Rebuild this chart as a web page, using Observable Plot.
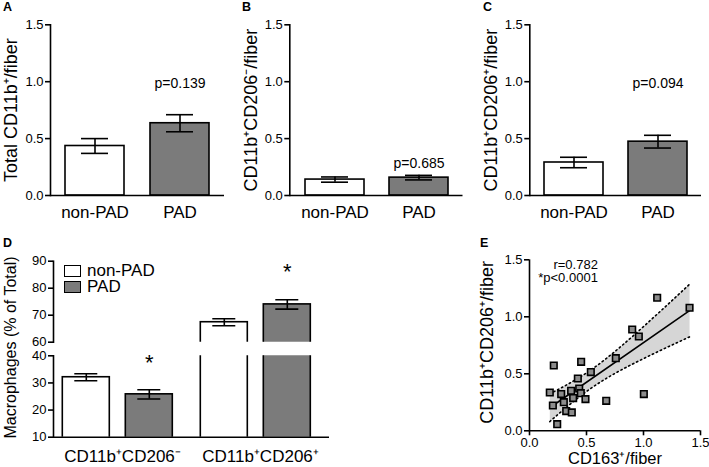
<!DOCTYPE html>
<html><head><meta charset="utf-8">
<script src="https://cdn.jsdelivr.net/npm/d3@7"></script>
<script src="https://cdn.jsdelivr.net/npm/@observablehq/plot@0.6"></script>
<style>
body{margin:0;background:#fff;font-family:"Liberation Sans",Arial,sans-serif;color:#000;}
#fig{position:relative;width:709px;height:467px;overflow:hidden;background:#fff;}
.panel{position:absolute;}
.panel svg{overflow:visible;display:block;}
.letter{position:absolute;font-weight:bold;font-size:12.5px;line-height:1;}
.legend{position:absolute;}
.lrow{display:flex;align-items:center;height:16.3px;font-size:17px;line-height:16px;}
.sw{display:inline-block;width:15px;height:10px;border:1.5px solid #000;margin-right:6px;}
</style></head>
<body><div id="fig"></div>
<script>
// ---------- data ----------
const groups = ["non-PAD", "PAD"];
const groupFill = ["#ffffff", "#7b7b7b"];

// Panel A: Total CD11b+/fiber
const totalMean = [0.435, 0.635];
const totalErr = [0.065, 0.075];
// Panel B: CD11b+CD206-/fiber
const negMean = [0.14, 0.157];
const negErr = [0.023, 0.02];
// Panel C: CD11b+CD206+/fiber
const posMean = [0.29, 0.473];
const posErr = [0.046, 0.056];
const pTexts = ["p=0.139", "p=0.685", "p=0.094"];
const pY = [0.98, 0.28, 0.98];

// Panel D: Macrophages (% of Total)
const markers = ["CD11b\u207ACD206\u207B", "CD11b\u207ACD206\u207A"];
const dNonMean = [32.1, 67.4];
const dNonErr = [1.3, 1.3];
const dPadMean = [25.8, 74.0];
const dPadErr = [1.7, 1.75];
const starY = [37.5, 86.0];

// Panel E: scatter
const cd163 = [0.178, 0.213, 0.205, 0.243, 0.278, 0.301, 0.322, 0.371, 0.383, 0.365, 0.424, 0.436,
  0.453, 0.45, 0.491, 0.538, 0.673, 0.757, 0.901, 0.959, 1.003, 1.120, 1.404];
const cd206 = [0.336, 0.573, 0.222, 0.058, 0.322, 0.251, 0.173, 0.161, 0.287, 0.351, 0.459, 0.371,
  0.605, 0.33, 0.278, 0.515, 0.263, 0.637, 0.889, 0.827, 0.322, 1.167, 1.079];
const statText = "r=0.782\n*p<0.0001";

const barTicks = [0, 0.5, 1.0, 1.5];
const dUpperTicks = [60, 70, 80, 90];
const dLowerTicks = [10, 20, 30, 40];

// ---------- helpers ----------
const FONT = "Liberation Sans, Arial, sans-serif";
const svgStyle = {fontFamily: FONT, background: "transparent", overflow: "visible", color: "#000"};
const SW = 1.6;
const fig = document.getElementById("fig");

function place(el, left, top) {
  const d = document.createElement("div");
  d.className = "panel";
  d.style.left = left + "px";
  d.style.top = top + "px";
  d.appendChild(el);
  fig.appendChild(d);
}
function letter(t, left, top) {
  const d = document.createElement("div");
  d.className = "letter";
  d.textContent = t;
  d.style.left = left + "px";
  d.style.top = top + "px";
  fig.appendChild(d);
}

function barPanel(mean, err, ylabel, ptext, py, width, ml, mr) {
  const rows = groups.map((g, i) => ({group: g, mean: mean[i], lo: mean[i] - err[i], hi: mean[i] + err[i]}));
  const height = 225;
  return Plot.plot({
    width, height,
    marginLeft: ml, marginRight: mr, marginTop: 24.3, marginBottom: height - 195,
    style: svgStyle,
    x: {domain: groups, paddingInner: 0.3, paddingOuter: 0.17, axis: null},
    y: {domain: [0, 1.5], axis: null},
    color: {domain: groups, range: groupFill},
    marks: [
      Plot.barY(rows, {x: "group", y: "mean", fill: "group", stroke: "black", strokeWidth: SW}),
      Plot.ruleX(rows, {x: "group", y1: "lo", y2: "hi", strokeWidth: SW}),
      Plot.tickY(rows, {x: "group", y: "lo", strokeWidth: SW, inset: 16}),
      Plot.tickY(rows, {x: "group", y: "hi", strokeWidth: SW, inset: 16}),
      Plot.ruleY([0], {strokeWidth: SW}),
      Plot.frame({anchor: "left", strokeWidth: SW}),
      Plot.axisY({ticks: barTicks, tickFormat: ".1f", tickSize: 5, tickPadding: 2, fontSize: 13, strokeWidth: SW, label: null}),
      Plot.axisX({tickSize: 0, tickPadding: 10, fontSize: 17, label: null}),
      Plot.text([ylabel], {text: d => d, frameAnchor: "left", textAnchor: "middle", lineAnchor: "middle", rotate: -90, dx: -39, fontSize: 18}),
      Plot.text([{g: "PAD", y: py, t: ptext}], {x: "g", y: "y", text: "t", fontSize: 14})
    ]
  });
}

// ---------- panels A-C ----------
place(barPanel(totalMean, totalErr, "Total CD11b\u207A/fiber", pTexts[0], pY[0], 236, 50, 12), 0, 0);
place(barPanel(negMean, negErr, "CD11b\u207ACD206\u207B/fiber", pTexts[1], pY[1], 236, 53.3, 9.5), 236, 0);
place(barPanel(posMean, posErr, "CD11b\u207ACD206\u207A/fiber", pTexts[2], pY[2], 237, 57.3, 8), 472, 0);

// ---------- panel D (broken axis) ----------
const dRows = [];
markers.forEach((m, j) => {
  dRows.push({marker: m, group: groups[0], mean: dNonMean[j], lo: dNonMean[j] - dNonErr[j], hi: dNonMean[j] + dNonErr[j]});
  dRows.push({marker: m, group: groups[1], mean: dPadMean[j], lo: dPadMean[j] - dPadErr[j], hi: dPadMean[j] + dPadErr[j]});
});
const stars = markers.map((m, j) => ({marker: m, group: groups[1], y: starY[j]}));

function dPanel(domain, ticks, height, mt, mb, lower) {
  const inDom = stars.filter(s => s.y >= domain[0] && s.y <= domain[1]);
  return Plot.plot({
    width: 340, height,
    marginLeft: 52.7, marginRight: 10, marginTop: mt, marginBottom: mb,
    style: svgStyle,
    fx: {domain: markers, paddingInner: 0, paddingOuter: 0, label: null, axis: lower ? undefined : null},
    x: {domain: groups, paddingInner: 0.254, paddingOuter: 0.217, align: 0.34, axis: null},
    y: {domain, axis: null},
    color: {domain: groups, range: groupFill},
    marks: [
      Plot.barY(dRows, {fx: "marker", x: "group", y: "mean", fill: "group", stroke: "black", strokeWidth: SW, clip: true}),
      Plot.ruleX(dRows, {fx: "marker", x: "group", y1: "lo", y2: "hi", strokeWidth: SW, clip: true}),
      Plot.tickY(dRows, {fx: "marker", x: "group", y: "lo", strokeWidth: SW, inset: 12, clip: true}),
      Plot.tickY(dRows, {fx: "marker", x: "group", y: "hi", strokeWidth: SW, inset: 12, clip: true}),
      lower ? Plot.ruleY([domain[0]], {strokeWidth: SW}) : null,
      Plot.frame({anchor: "left", facetAnchor: "left", strokeWidth: SW}),
      Plot.axisY({ticks, tickSize: 5, tickPadding: 2, fontSize: 13, strokeWidth: SW, label: null}),
      lower ? Plot.axisFx({anchor: "bottom", tickSize: 0, tickPadding: 13, fontSize: 17, label: null}) : null,
      lower ? Plot.text(["Macrophages (% of Total)"], {text: d => d, frameAnchor: "top-left", textAnchor: "middle", lineAnchor: "middle", rotate: -90, dx: -42.7, dy: -8.3, fontSize: 16, facetAnchor: "left"}) : null,
      Plot.text(inDom, {fx: "marker", x: "group", y: "y", text: () => "*", fontSize: 22})
    ]
  });
}
place(dPanel([60, 90], dUpperTicks, 112, 30.7, 0.3, false), 0, 230);
place(dPanel([10, 40], dLowerTicks, 125, 13.3, 30.3, true), 0, 342);

// legend for D
const leg = document.createElement("div");
leg.className = "legend";
leg.style.left = "64px";
leg.style.top = "262.8px";
groups.forEach((g, i) => {
  const row = document.createElement("div");
  row.className = "lrow";
  const sw = document.createElement("span");
  sw.className = "sw";
  sw.style.background = groupFill[i];
  const t = document.createElement("span");
  t.textContent = g;
  row.appendChild(sw); row.appendChild(t);
  leg.appendChild(row);
});
fig.appendChild(leg);

// ---------- panel E ----------
const pts = cd163.map((x, i) => ({x, y: cd206[i]}));
const T95 = 2.0796; // t(0.975, df = n - 2 = 21)
function ciCurves(data) {
  const n = data.length;
  const mx = d3.mean(data, d => d.x), my = d3.mean(data, d => d.y);
  const sxx = d3.sum(data, d => (d.x - mx) ** 2);
  const sxy = d3.sum(data, d => (d.x - mx) * (d.y - my));
  const b = sxy / sxx, a = my - b * mx;
  const s = Math.sqrt(d3.sum(data, d => (d.y - a - b * d.x) ** 2) / (n - 2));
  return d3.sort(data.map(d => d.x)).map(x => {
    const yh = a + b * x, h = T95 * s * Math.sqrt(1 / n + (x - mx) ** 2 / sxx);
    return {x, lo: yh - h, hi: yh + h};
  });
}
const ci = ciCurves(pts);

place(Plot.plot({
  width: 237, height: 232,
  marginLeft: 57, marginRight: 9, marginTop: 24.3, marginBottom: 36.7,
  style: svgStyle,
  x: {domain: [0, 1.5], axis: null},
  y: {domain: [0, 1.5], axis: null},
  marks: [
    Plot.linearRegressionY(pts, {x: "x", y: "y", stroke: "black", strokeWidth: SW, fill: "#d6d6d6", fillOpacity: 1}),
    Plot.line(ci, {x: "x", y: "lo", strokeWidth: 1.6, strokeDasharray: "1.4,3", curve: "monotone-x"}),
    Plot.line(ci, {x: "x", y: "hi", strokeWidth: 1.6, strokeDasharray: "1.4,3", curve: "monotone-x"}),
    Plot.dot(pts, {x: "x", y: "y", symbol: "square", r: 3.7, fill: "#8c8c8c", stroke: "black", strokeWidth: SW}),
    Plot.ruleX([0], {strokeWidth: SW}),
    Plot.ruleY([0], {strokeWidth: SW}),
    Plot.axisX({ticks: barTicks, tickFormat: ".1f", tickSize: 5, tickPadding: 2, fontSize: 13, strokeWidth: SW, label: null}),
    Plot.axisY({ticks: barTicks, tickFormat: ".1f", tickSize: 5, tickPadding: 2, fontSize: 13, strokeWidth: SW, label: null}),
    Plot.text(["CD11b\u207ACD206\u207A/fiber"], {text: d => d, frameAnchor: "left", textAnchor: "middle", lineAnchor: "middle", rotate: -90, dx: -42, dy: -3, fontSize: 18}),
    Plot.text(["CD163\u207A/fiber"], {text: d => d, frameAnchor: "bottom", textAnchor: "middle", lineAnchor: "middle", dy: 28, fontSize: 16.5}),
    Plot.text([{x: 0.6, y: 1.40, t: statText}], {x: "x", y: "y", text: "t", textAnchor: "end", lineHeight: 1, fontSize: 13})
  ]
}), 472, 235);

// ---------- panel letters ----------
letter("A", 3, 1.4);
letter("B", 242, 1.4);
letter("C", 483, 1.4);
letter("D", 3, 237.4);
letter("E", 480, 237.4);
</script>
</body></html>
